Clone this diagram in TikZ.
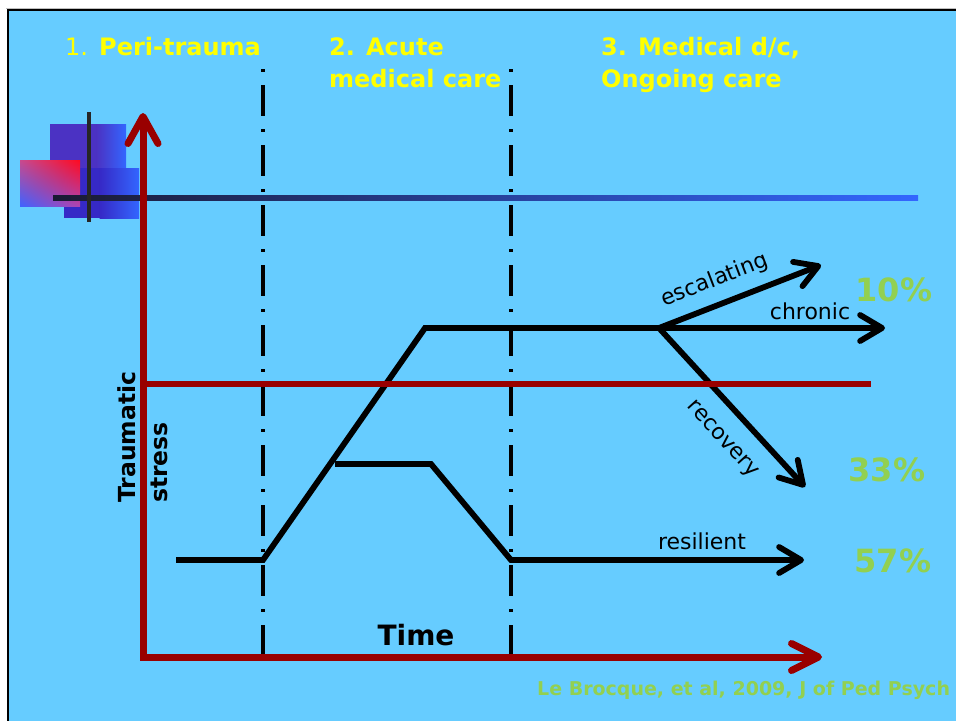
\documentclass[tikz,border=0pt]{standalone}
\usepackage{fontspec}
\setmainfont{DejaVu Sans}
\usetikzlibrary{arrows.meta,shadings}
\definecolor{bgblue}{HTML}{66CCFF}
\definecolor{axred}{HTML}{990000}
\definecolor{hdryellow}{HTML}{FFFF00}
\definecolor{pctgreen}{HTML}{92D050}
\definecolor{lineA}{HTML}{1A1A33}
\definecolor{lineB}{HTML}{3366FF}
\definecolor{lgA}{HTML}{4B32C3}
\definecolor{lgC}{HTML}{3629C6}
\definecolor{pkUR}{HTML}{FF0A20}
\definecolor{pkUL}{HTML}{C84A8E}
\definecolor{pkLL}{HTML}{3F62FF}
\definecolor{pkLR}{HTML}{B044B0}
\begin{document}
\begin{tikzpicture}[x=1pt,y=-1pt,
  graphline/.style={line width=5.8pt, line join=miter},
  btip/.style={-{Straight Barb[length=22pt,width=26pt,round]}},
  rtip/.style={{Straight Barb[length=27pt,width=30pt,round]}-{Straight Barb[length=27pt,width=27pt,round]}},
  dashdot/.style={black, line width=4pt, dash pattern=on 3pt off 13pt on 31pt off 13pt},
  hdr/.style={text=hdryellow, font=\fontsize{24}{28}\selectfont\bfseries, inner sep=0pt},
  lbl/.style={text=black, font=\fontsize{22}{26}\selectfont, inner sep=0pt},
  pct/.style={text=pctgreen, font=\fontsize{32}{36}\selectfont\bfseries, inner sep=0pt},
  ylab/.style={text=black, font=\fontsize{23.5}{28}\selectfont\bfseries, inner sep=0pt}
]
\useasboundingbox (0,0) rectangle (956,721);
% slide background and frame
\fill[white] (0,0) rectangle (956,721);
\fill[bgblue] (8,10) rectangle (956,721);
\draw[gray!50, line width=1pt] (6,8) -- (956,8);
\draw[black, line width=2.5pt] (7,10) -- (956,10);
\draw[black, line width=2.5pt] (8,9) -- (8,721);

% logo
\fill[lgA] (50,124) rectangle (97,182);
\shade[left color=lgA, right color=lineB] (96.5,124) rectangle (126,182);
\fill[lgC] (64,168) rectangle (100,218);
\shade[left color=lgC, right color=lineB] (99.5,168) rectangle (139,218);
\shade[upper left=pkUL, upper right=pkUR, lower left=pkLL, lower right=pkLR] (20,160) rectangle (80,206);
\shade[left color=lineA, right color=lineB] (53,195) rectangle (918,200);
\draw[black!85, line width=3.5pt] (89,112) -- (89,222);

% phase separators
\coordinate (s1t) at (263,69);
\coordinate (s1b) at (263,658);
\coordinate (s2t) at (511,69);
\coordinate (s2b) at (511,658);
\draw[dashdot] (s1t) -- (s1b);
\draw[dashdot] (s2t) -- (s2b);

% trajectories
\coordinate (a0) at (176,560);
\coordinate (a1) at (263,560);
\coordinate (a2) at (425,328);
\coordinate (a3) at (659,328);
\coordinate (chr) at (885,328);
\coordinate (esc) at (821,265);
\coordinate (rec) at (805,487);
\coordinate (b0) at (335,464);
\coordinate (b1) at (431,464);
\coordinate (b2) at (511,560);
\coordinate (res) at (804,560);
\draw[graphline, btip] (a0) -- (a1) -- (a2) -- (a3) -- (chr);
\draw[graphline, btip] (a3) -- (esc);
\draw[graphline, btip] (a3) -- (rec);
\draw[graphline, btip] (b0) -- (b1) -- (b2) -- (res);

% threshold line
\coordinate (th0) at (143,384);
\coordinate (th1) at (871,384);
\draw[axred, line width=6pt] (th0) -- (th1);

% axes
\coordinate (ytop) at (143,113);
\coordinate (orig) at (143,657);
\coordinate (xend) at (822,657);
\draw[axred, line width=7pt, line join=miter, rtip] (ytop) -- (orig) -- (xend);

% labels
\node[hdr, anchor=base west] (h1) at (65,55) {{\mdseries 1.} Peri-trauma};
\node[hdr, anchor=base west] (h2a) at (329,55) {2. Acute};
\node[hdr, anchor=base west] (h2b) at (329,87) {medical care};
\node[hdr, anchor=base west] (h3a) at (601,55) {3. Medical d/c,};
\node[hdr, anchor=base west] (h3b) at (601,87) {Ongoing care};

\node[lbl, anchor=base, rotate=21] (lesc) at (717,286) {escalating};
\node[lbl, anchor=base] (lchr) at (810,319) {chronic};
\node[lbl, rotate=-48] (lrec) at (722,440) {recovery};
\node[lbl, anchor=base] (lres) at (702,549) {resilient};

\node[pct] (p10) at (894,290) {10\%};
\node[pct] (p33) at (887,470) {33\%};
\node[pct] (p57) at (893,561) {57\%};

\node[text=black, font=\fontsize{28}{32}\selectfont\bfseries, inner sep=0pt, anchor=base] (time) at (416,645) {Time};
\node[ylab, rotate=90, anchor=base west] (yl1) at (135,503) {Traumatic};
\node[ylab, rotate=90, anchor=base west] (yl2) at (167,503) {stress};

\node[text=pctgreen, font=\fontsize{19}{22}\selectfont\bfseries, inner sep=0pt, anchor=base west] (cite) at (537,695) {Le Brocque, et al, 2009, J of Ped Psych};
\end{tikzpicture}
\end{document}
